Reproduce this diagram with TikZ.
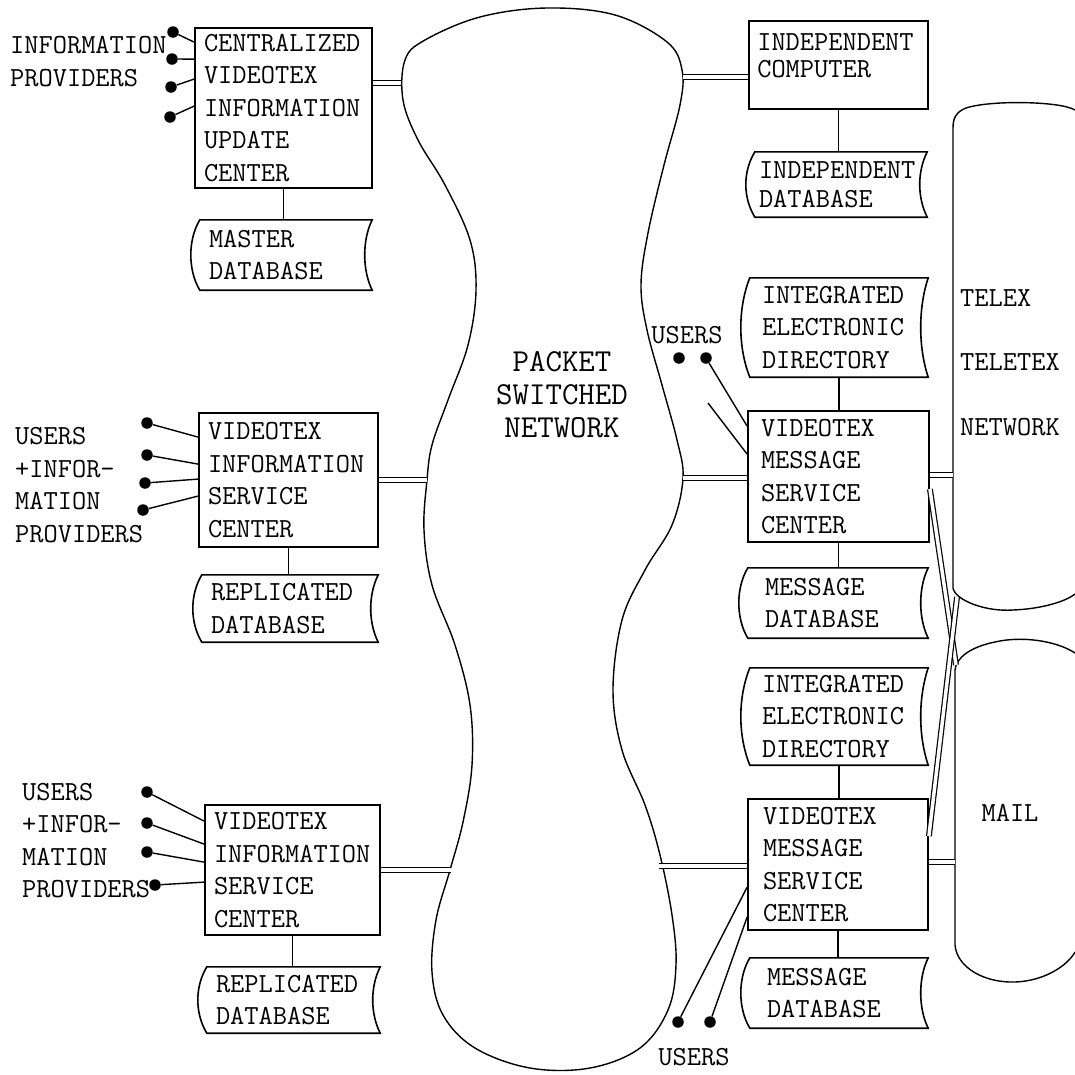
\documentclass[tikz,border=0pt]{standalone}
\usepackage{tikz}
\newcommand{\boxfont}{\ttfamily\fontsize{27.6}{32.5}\selectfont}
\newcommand{\cloudfont}{\ttfamily\fontsize{32}{33}\selectfont}
% stored data outline round a node
\newcommand{\dbshape}[2]{%
  \draw[dbline] (#1.north west) .. controls +(-12,#2) and +(-12,-#2) .. (#1.south west)
    -- (#1.south east) .. controls +(-10,-#2) and +(-10,#2) .. (#1.north east) -- cycle;}

\begin{document}
\begin{tikzpicture}[x=1pt, y=-1pt,
    box/.style={draw, line width=1.8pt, align=left, inner xsep=9pt, inner ysep=0pt, font=\boxfont},
    store/.style={align=left, inner xsep=9pt, inner ysep=0pt, font=\boxfont},
    dbline/.style={line width=1.6pt},
    txt/.style={align=left, inner sep=0pt, font=\boxfont},
    userdot/.style={circle, fill=black, inner sep=0pt, minimum size=11.5pt},
    wire/.style={line width=1.4pt},
    link/.style={double, double distance=3.5pt, line width=1.2pt}
]
    \useasboundingbox (0,0) rectangle (1075,1074);

    % packet switched network
    \draw[wire] plot[smooth cycle, tension=0.6] coordinates {
        (405,60) (403,100) (418,140) (445,185) (470,240) (476,290) (468,345)
        (448,400) (432,445) (427,480) (424,530) (432,585) (455,645) (470,705)
        (472,765) (463,822) (450,870) (436,920) (432,972) (443,1015) (475,1048)
        (530,1068) (590,1068) (640,1048) (668,1010) (676,965) (672,915) (660,855)
        (645,805) (622,750) (613,690) (622,620) (645,570) (672,525) (683,478)
        (677,440) (662,385) (647,330) (641,285) (648,233) (664,165) (680,105)
        (682,70) (667,42) (615,15) (547,8) (480,17) (425,40)};
    \node[txt, font=\cloudfont, align=center] (psn) at (562,395) {PACKET\\SWITCHED\\NETWORK};
    \coordinate (cIuc) at (401,83);
    \coordinate (cIsc1) at (427,480);
    \coordinate (cIsc2) at (451,870);
    \coordinate (cIc) at (683,77);
    \coordinate (cVm1) at (683,478);
    \coordinate (cVm2) at (659,866);

    % update center
    \node[box, text width=159pt, minimum height=160pt] (iuc) at (283.5,108) {CENTRALIZED\\VIDEOTEX\\INFORMATION\\UPDATE\\CENTER};
    \node[store, text width=154pt, minimum height=70pt] (mdb) at (286,255) {MASTER\\DATABASE};
    \dbshape{mdb}{20}
    \node[txt, anchor=west] (ipLbl) at (10,61.5) {INFORMATION\\PROVIDERS};
    \node[userdot] (ip1) at (173,32) {};
    \node[userdot] (ip2) at (172,59) {};
    \node[userdot] (ip3) at (171,87) {};
    \node[userdot] (ip4) at (170,117) {};
    \draw[wire] (ip1) -- ([yshift=-15pt]iuc.north west);
    \draw[wire] (ip2) -- ([yshift=-32pt]iuc.north west);
    \draw[wire] (ip3) -- ([yshift=-52pt]iuc.north west);
    \draw[wire] (ip4) -- ([yshift=-79pt]iuc.north west);
    \draw[wire] (iuc.south) -- (iuc.south |- mdb.north);
    \draw[link] (cIuc) -- (cIuc -| iuc.east);

    % service center, middle
    \node[box, text width=161pt, minimum height=134pt] (isc1) at (288.5,480) {VIDEOTEX\\INFORMATION\\SERVICE\\CENTER};
    \node[store, text width=158pt, minimum height=67pt] (rdb1) at (290,608.5) {REPLICATED\\DATABASE};
    \dbshape{rdb1}{20}
    \node[txt, anchor=west] (uipLbl1) at (15,485) {USERS\\+INFOR-\\MATION\\PROVIDERS};
    \node[userdot] (ua1) at (147,423) {};
    \node[userdot] (ua2) at (147,455) {};
    \node[userdot] (ua3) at (145,483) {};
    \node[userdot] (ua4) at (143,510) {};
    \draw[wire] (ua1) -- ([yshift=-25pt]isc1.north west);
    \draw[wire] (ua2) -- ([yshift=-52pt]isc1.north west);
    \draw[wire] (ua3) -- ([yshift=-67pt]isc1.north west);
    \draw[wire] (ua4) -- ([yshift=-84pt]isc1.north west);
    \draw[wire] (isc1.south) -- (isc1.south |- rdb1.north);
    \draw[link] (cIsc1) -- (cIsc1 -| isc1.east);

    % service center, bottom
    \node[box, text width=157pt, minimum height=130pt] (isc2) at (292.5,870) {VIDEOTEX\\INFORMATION\\SERVICE\\CENTER};
    \node[store, text width=155pt, minimum height=66pt] (rdb2) at (293.5,1000) {REPLICATED\\DATABASE};
    \dbshape{rdb2}{20}
    \node[txt, anchor=west] (uipLbl2) at (22,840.5) {USERS\\+INFOR-\\MATION\\PROVIDERS};
    \node[userdot] (ub1) at (147,792) {};
    \node[userdot] (ub2) at (147,823) {};
    \node[userdot] (ub3) at (147,852) {};
    \node[userdot] (ub4) at (155,885) {};
    \draw[wire] (ub1) -- ([yshift=-17pt]isc2.north west);
    \draw[wire] (ub2) -- ([yshift=-40pt]isc2.north west);
    \draw[wire] (ub3) -- ([yshift=-58pt]isc2.north west);
    \draw[wire] (ub4) -- ([yshift=-78pt]isc2.north west);
    \draw[wire] (isc2.south) -- (isc2.south |- rdb2.north);
    \draw[link] (cIsc2) -- (cIsc2 -| isc2.east);

    % independent computer
    \node[box, minimum width=179pt, minimum height=88pt] (ic) at (838.5,65) {};
    \node[txt, anchor=north west] (icTxt) at ([xshift=9pt,yshift=-13pt]ic.north west) {INDEPENDENT\\[-5pt]COMPUTER};
    \node[store, inner xsep=4pt, text width=164pt, minimum height=65pt] (idb) at (841,184.5) {INDEPENDENT\\[-3pt]DATABASE};
    \dbshape{idb}{20}
    \draw[wire] (ic.south) -- (ic.south |- idb.north);
    \draw[link] (cIc) -- (cIc -| ic.west);

    % message service centers
    \node[store, inner xsep=12pt, text width=154pt, minimum height=99pt] (ied1) at (839,327.5) {INTEGRATED\\ELECTRONIC\\DIRECTORY};
    \dbshape{ied1}{30}
    \node[box, inner xsep=13pt, text width=155pt, minimum height=131pt] (vm1) at (838.5,476.5) {VIDEOTEX\\MESSAGE\\SERVICE\\CENTER};
    \node[store, inner xsep=17pt, text width=146pt, minimum height=70pt] (mdb1) at (838,603) {MESSAGE\\DATABASE};
    \dbshape{mdb1}{20}
    \draw[wire] (ied1.south) -- (ied1.south |- vm1.north);
    \draw[wire] (vm1.south) -- (vm1.south |- mdb1.north);
    \draw[link] (cVm1) -- (cVm1 -| vm1.west);

    \node[store, inner xsep=12pt, text width=154pt, minimum height=97pt] (ied2) at (839,716.5) {INTEGRATED\\ELECTRONIC\\DIRECTORY};
    \dbshape{ied2}{30}
    \node[box, inner xsep=15pt, text width=150pt, minimum height=131pt] (vm2) at (838,864.5) {VIDEOTEX\\MESSAGE\\SERVICE\\CENTER};
    \node[store, inner xsep=17pt, text width=144pt, minimum height=70pt] (mdb2) at (839,993) {MESSAGE\\DATABASE};
    \dbshape{mdb2}{20}
    \draw[wire] (ied2.south) -- (ied2.south |- vm2.north);
    \draw[wire] (vm2.south) -- (vm2.south |- mdb2.north);
    \draw[link] (cVm2) -- (cVm2 -| vm2.west);

    % users at the message centers
    \node[txt] (usersTop) at (687,335) {USERS};
    \node[userdot] (ut1) at (679,358) {};
    \node[userdot] (ut2) at (706,358) {};
    \coordinate (utFree) at (708,403);
    \draw[wire] (ut2) -- ([yshift=-16pt]vm1.north west);
    \draw[wire] (utFree) -- ([yshift=-44pt]vm1.north west);
    \node[txt] (usersBot) at (694,1057) {USERS};
    \node[userdot] (ud1) at (678,1022) {};
    \node[userdot] (ud2) at (710,1022) {};
    \draw[wire] (ud1) -- ([yshift=-89pt]vm2.north west);
    \draw[wire] (ud2) -- ([yshift=-119pt]vm2.north west);

    % telex teletex network and mail
    \draw[wire] (1075,110) .. controls (1060,101) and (990,100) .. (966,108)
        .. controls (956,112) and (953,118) .. (953,128) -- (953,588)
        .. controls (955,600) and (985,612) .. (1013,610)
        .. controls (1040,609) and (1065,602) .. (1075,594);
    \draw[wire] (1075,653) .. controls (1055,640) and (1020,636) .. (995,642)
        .. controls (970,647) and (956,658) .. (955,670) -- (955,945)
        .. controls (957,968) and (985,983) .. (1015,982)
        .. controls (1045,981) and (1068,965) .. (1075,952);
    \node[txt, anchor=west] (telexLbl) at (960,298) {TELEX};
    \node[txt, anchor=west] (teletexLbl) at (960,362) {TELETEX};
    \node[txt, anchor=west] (netLbl) at (960,427) {NETWORK};
    \node[txt] (mailLbl) at (1010,813) {MAIL};
    \coordinate (tx1) at (953,475);
    \coordinate (ml1) at (955,862);
    \coordinate (txCorner) at (957,597);
    \coordinate (mlCorner) at (956,665);
    \draw[link] (tx1) -- (tx1 -| vm1.east);
    \draw[link] (ml1) -- (ml1 -| vm2.east);
    \draw[link] ([yshift=-79pt]vm1.north east) -- (mlCorner);
    \draw[link] ([yshift=-38pt]vm2.north east) -- (txCorner);
\end{tikzpicture}
\end{document}
